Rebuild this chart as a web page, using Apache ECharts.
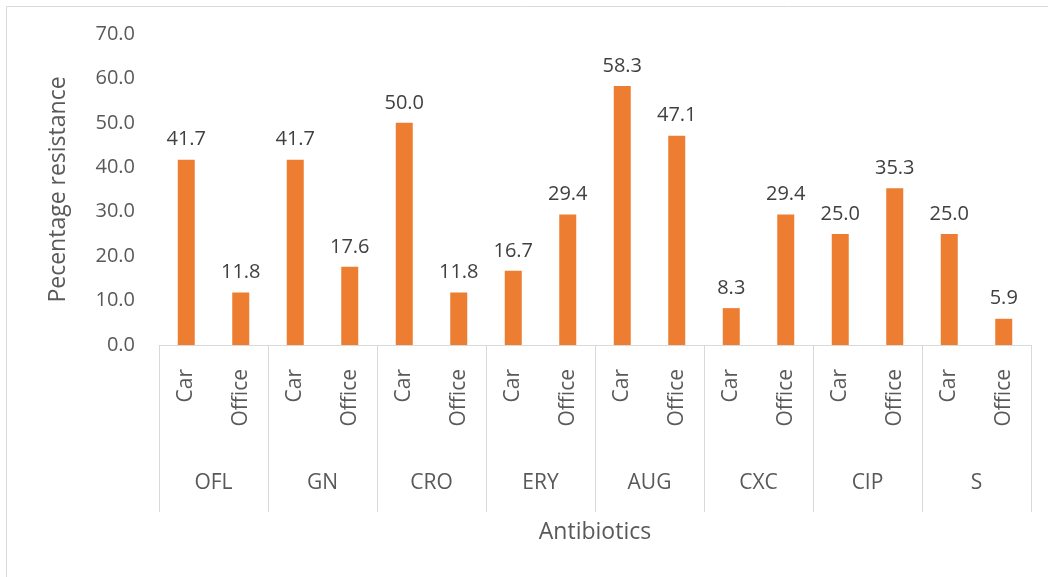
<!DOCTYPE html>
<html>
<head>
<meta charset="utf-8">
<script src="https://cdn.jsdelivr.net/npm/echarts@6/dist/echarts.min.js"></script>
<style>
  html, body { margin: 0; padding: 0; background: #fff; }
  #chart { width: 1048px; height: 577px; }
</style>
</head>
<body>
<div id="chart"></div>
<script>
var groups = ['OFL', 'GN', 'CRO', 'ERY', 'AUG', 'CXC', 'CIP', 'S']
var places = ['Car', 'Office']
var carValues = [41.7, 41.7, 50.0, 16.7, 58.3, 8.3, 25.0, 25.0]
var officeValues = [11.8, 17.6, 11.8, 29.4, 47.1, 29.4, 35.3, 5.9]
var yTicks = [0, 10, 20, 30, 40, 50, 60, 70]

// flatten into 16 slots: Car/Office per antibiotic
var slots = []
var values = []
groups.forEach(function (g, i) {
  slots.push(places[0])
  values.push(carValues[i])
  slots.push(places[1])
  values.push(officeValues[i])
})

var font = 'Open Sans'
var chart = echarts.init(document.getElementById('chart'))
chart.setOption({
  animation: false,
  textStyle: { fontFamily: font },
  graphic: [{
    type: 'rect',
    shape: { x: 6.5, y: 6.5, width: 1100, height: 700 },
    style: { fill: 'none', stroke: '#D9D9D9', lineWidth: 1 },
    silent: true
  }],
  grid: { left: 159, right: 17, top: 34, bottom: 232 },
  xAxis: [
    {
      type: 'category',
      data: slots,
      position: 'bottom',
      axisLine: { show: true, lineStyle: { color: '#D9D9D9', width: 1 } },
      axisTick: { show: false },
      axisLabel: {
        rotate: 90,
        margin: 24,
        interval: 0,
        color: '#595959',
        fontSize: 21,
        fontFamily: font
      }
    },
    {
      type: 'category',
      data: groups,
      position: 'bottom',
      offset: 0,
      axisLine: { show: false },
      axisTick: { show: true, length: 167, lineStyle: { color: '#D9D9D9', width: 1 } },
      axisLabel: {
        margin: 128,
        interval: 0,
        color: '#595959',
        fontSize: 21,
        fontFamily: font
      },
      name: 'Antibiotics',
      nameLocation: 'middle',
      nameGap: 176,
      nameTextStyle: { color: '#595959', fontSize: 23, fontFamily: font }
    }
  ],
  yAxis: {
    type: 'value',
    min: yTicks[0],
    max: yTicks[yTicks.length - 1],
    interval: 10,
    axisLine: { show: false },
    axisTick: { show: false },
    splitLine: { show: false },
    axisLabel: {
      margin: 24,
      color: '#595959',
      fontSize: 20,
      fontFamily: font,
      formatter: function (val) {
        return val.toFixed(1)
      }
    },
    name: 'Pecentage resistance',
    nameLocation: 'middle',
    nameRotate: 90,
    nameGap: 89,
    nameTextStyle: { color: '#595959', fontSize: 23, fontFamily: font }
  },
  series: [
    {
      type: 'bar',
      xAxisIndex: 0,
      data: values,
      barWidth: 17,
      itemStyle: { color: '#ED7D31' },
      label: {
        show: true,
        position: 'top',
        distance: 10,
        color: '#404040',
        fontSize: 20,
        fontFamily: font,
        formatter: function (p) {
          return p.value.toFixed(1)
        }
      }
    }
  ]
})
</script>
</body>
</html>
